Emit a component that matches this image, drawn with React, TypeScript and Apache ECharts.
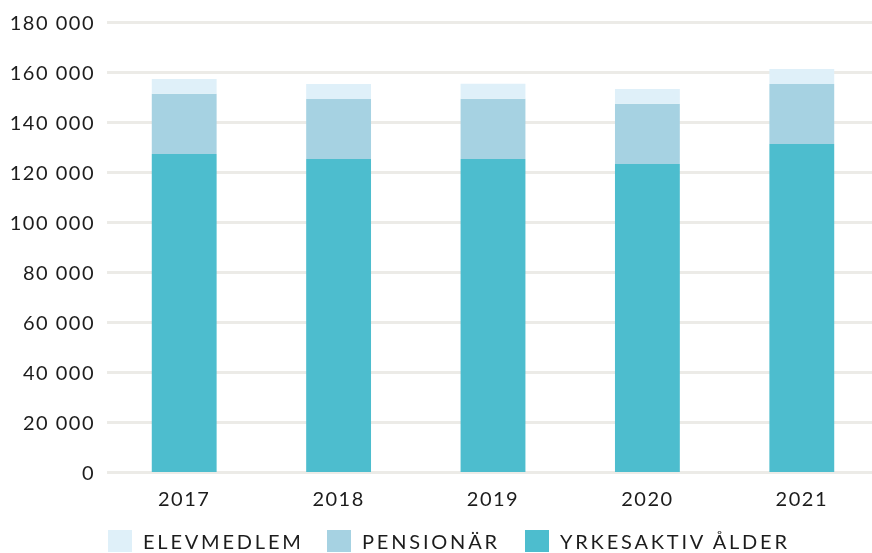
import React, { useEffect, useRef } from "react";
import * as echarts from "echarts";

const years = ["2017", "2018", "2019", "2020", "2021"];
const yrkesaktiv = [127200, 125200, 125200, 123200, 131200];
const pensionar = [24100, 24000, 24100, 24100, 24000];
const elevmedlem = [5900, 6000, 6000, 5900, 6000];
const seriesNames = ["ELEVMEDLEM", "PENSIONÄR", "YRKESAKTIV ÅLDER"];
const colors = { elev: "#dff0f9", pension: "#a6d2e2", yrkes: "#4dbdce" };

const fmt = (v: number) => {
  const s = String(Math.round(v));
  return s.replace(/\B(?=(\d{3})+(?!\d))/g, " ");
};

export default function App() {
  const ref = useRef<HTMLDivElement>(null);
  useEffect(() => {
    if (!ref.current) return;
    const chart = echarts.init(ref.current, undefined, { renderer: "svg" });
    const font = "Lato";
    const legendBase = {
      top: 530,
      padding: 0,
      itemWidth: 24,
      itemHeight: 22,
      icon: "rect",
      selectedMode: false,
      textStyle: { fontFamily: font, fontSize: 20, color: "#1c1c1c", padding: [4, 0, 0, 6] },
    };
    chart.setOption({
      animation: false,
      grid: {
        left: 107,
        width: 772,
        top: 22,
        bottom: 81,
        containLabel: false,
        outerBoundsMode: "none",
      },
      legend: [
        { ...legendBase, left: 108, data: [seriesNames[0]] },
        { ...legendBase, left: 327, data: [seriesNames[1]] },
        { ...legendBase, left: 525, data: [seriesNames[2]] },
      ],
      xAxis: {
        type: "category",
        data: years,
        axisLine: { show: false },
        axisTick: { show: false },
        axisLabel: { fontFamily: font, fontSize: 20, color: "#1c1c1c", margin: 16 },
      },
      yAxis: {
        type: "value",
        min: 0,
        max: 180000,
        interval: 20000,
        axisLine: { show: false },
        axisTick: { show: false },
        splitLine: { show: true, lineStyle: { color: "#ecebe7", width: 3 } },
        axisLabel: { fontFamily: font, fontSize: 20, color: "#1c1c1c", margin: 12, formatter: fmt },
      },
      series: [
        { name: seriesNames[2], type: "bar", stack: "t", data: yrkesaktiv, barWidth: "42%", itemStyle: { color: colors.yrkes } },
        { name: seriesNames[1], type: "bar", stack: "t", data: pensionar, itemStyle: { color: colors.pension } },
        { name: seriesNames[0], type: "bar", stack: "t", data: elevmedlem, itemStyle: { color: colors.elev } },
      ],
    });
    const applySpacing = () => {
      ref.current?.querySelectorAll("text").forEach((t) => {
        const s = t.textContent || "";
        (t as SVGTextElement).style.letterSpacing = seriesNames.includes(s) ? "2.8px" : "1.5px";
      });
    };
    applySpacing();
    chart.on("finished", applySpacing);
    return () => chart.dispose();
  }, []);
  return (
    <div
      ref={ref}
      style={{ position: "fixed", left: 0, top: 0, width: 872, height: 553, overflow: "hidden" }}
    />
  );
}
